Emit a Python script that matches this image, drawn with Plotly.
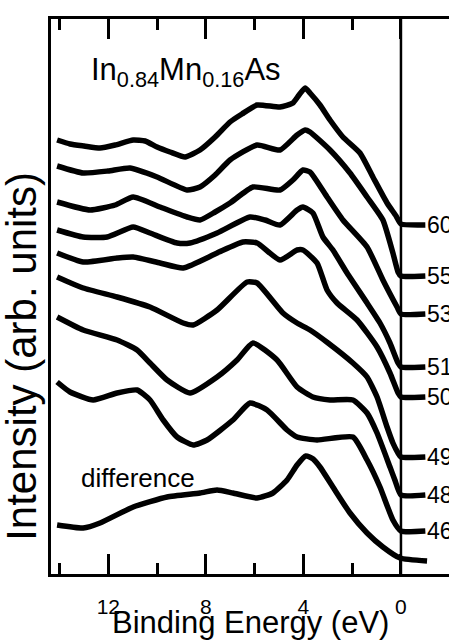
import plotly.graph_objects as go

# Binding energy (eV) and intensity (arb. units)
e_60 = [14.10, 13.57, 12.99, 12.34, 11.72, 10.98, 10.49, 10.00, 9.47, 8.85, 8.24, 7.62, 7.01, 6.52, 5.90,
        4.96, 4.43, 4.18, 3.93, 3.73, 3.32, 2.91, 2.38, 1.68, 1.15, 0.57, 0.20, 0.00, -1.00]
i_60 = [434, 430, 428, 426, 429, 434, 433, 427, 422, 417, 424, 437, 452, 460, 469,
        467, 471, 479, 486, 481, 469, 454, 437, 421, 397, 371, 358, 350, 349]

e_55 = [14.10, 13.03, 12.01, 11.11, 10.00, 8.77, 8.24, 7.62, 7.01, 5.90, 4.96, 4.26, 3.93, 3.73,
        2.91, 2.09, 1.39, 0.74, 0.33, 0.12, 0.00, -1.00]
i_55 = [408, 401, 403, 406, 397, 384, 387, 399, 414, 429, 424, 439, 444, 442,
        424, 401, 377, 354, 321, 302, 298, 298]

e_53 = [14.10, 12.75, 11.72, 10.98, 9.88, 8.77, 8.24, 7.62, 7.01, 6.07, 4.96, 4.43, 4.02, 3.73,
        3.03, 2.38, 1.39, 0.74, 0.16, 0.00, -1.00]
i_53 = [372, 364, 369, 377, 367, 357, 354, 362, 371, 387, 384, 394, 404, 402,
        377, 354, 327, 294, 267, 260, 260]

e_51 = [14.10, 13.03, 12.05, 10.98, 10.29, 9.18, 8.65, 7.54, 6.19, 5.57, 4.96, 4.26, 4.02, 3.61,
        3.20, 2.79, 2.21, 1.39, 0.86, 0.45, 0.12, 0.00, -1.00]
i_51 = [344, 337, 337, 347, 341, 331, 331, 341, 357, 354, 349, 364, 367, 361,
        337, 324, 301, 271, 251, 231, 211, 207, 207]

e_50 = [14.10, 13.03, 11.64, 10.98, 9.88, 8.93, 7.54, 6.48, 5.90, 4.96, 4.26, 4.02, 3.44, 3.03,
        2.62, 1.80, 0.98, 0.45, 0.12, 0.00, -1.00]
i_50 = [321, 312, 316, 317, 311, 306, 321, 332, 331, 314, 324, 324, 311, 284,
        271, 254, 227, 201, 181, 177, 177]

e_49 = [14.10, 13.03, 11.64, 10.29, 8.93, 8.52, 7.54, 6.31, 5.90, 4.84, 4.26, 3.73, 2.99, 1.97,
        1.39, 0.98, 0.57, 0.33, 0.12, 0.00, -1.00]
i_49 = [297, 286, 277, 267, 251, 249, 264, 292, 291, 261, 251, 244, 231, 211,
        197, 177, 147, 131, 121, 117, 117]

e_48 = [14.10, 13.03, 11.64, 10.82, 10.29, 9.59, 8.65, 7.54, 6.72, 6.07, 5.08, 4.26, 3.61, 2.91,
        1.97, 1.39, 0.98, 0.45, 0.25, 0.00, -1.00]
i_48 = [257, 244, 234, 224, 211, 194, 181, 197, 214, 231, 214, 187, 177, 174,
        174, 161, 141, 107, 94, 79, 79]

e_46 = [14.10, 13.57, 12.62, 11.64, 10.82, 10.29, 9.75, 9.18, 8.52, 7.95, 6.89, 6.19, 5.49, 4.67,
        4.26, 3.44, 1.97, 1.39, 0.86, 0.33, 0.00, -1.00]
i_46 = [192, 182, 174, 181, 184, 174, 154, 137, 129, 134, 154, 171, 164, 144,
        137, 134, 137, 114, 87, 54, 43, 43]

e_diff = [14.10, 13.03, 12.34, 10.98, 9.59, 8.24, 7.54, 6.89, 5.90, 5.25, 4.67, 4.26, 3.90, 3.60,
          3.32, 2.79, 2.09, 1.39, 0.74, 0.04, -1.07]
i_diff = [49, 46, 51, 67, 77, 81, 84, 81, 76, 81, 94, 109, 118, 115,
          107, 87, 61, 41, 27, 16, 13]

photon_labels = ["60", "55", "53", "51", "50", "49", "48", "46"]
spectra_e = [e_60, e_55, e_53, e_51, e_50, e_49, e_48, e_46]
spectra_i = [i_60, i_55, i_53, i_51, i_50, i_49, i_48, i_46]

FONT = "Liberation Sans, Arial, Helvetica, sans-serif"
LINE = dict(color="black", width=5.5, shape="spline", smoothing=0.5)

fig = go.Figure()
for lab, ee, ii in zip(photon_labels, spectra_e, spectra_i):
    fig.add_trace(go.Scatter(x=ee, y=ii, mode="lines", name=lab, line=LINE,
                             showlegend=False, hoverinfo="skip"))
fig.add_trace(go.Scatter(x=e_diff, y=i_diff, mode="lines", name="difference", line=LINE,
                         showlegend=False, hoverinfo="skip"))

annotations = []
for lab, ii in zip(photon_labels, spectra_i):
    annotations.append(dict(x=-1.0, y=ii[-1], xref="x", yref="y", text=lab, showarrow=False,
                            xanchor="left", yanchor="middle",
                            font=dict(family=FONT, size=23, color="black")))

annotations += [
    dict(x=0.096, y=0.905, xref="paper", yref="paper", showarrow=False,
         text="In<sub>0.84</sub>Mn<sub>0.16</sub>As", xanchor="left", yanchor="middle",
         font=dict(family=FONT, size=31, color="black")),
    dict(x=0.071, y=0.173, xref="paper", yref="paper", showarrow=False,
         text="difference", xanchor="left", yanchor="middle",
         font=dict(family=FONT, size=26, color="black")),
    dict(x=0.5, y=-0.087, xref="paper", yref="paper", showarrow=False,
         text="Binding Energy (eV)", xanchor="center", yanchor="middle",
         font=dict(family=FONT, size=31, color="black")),
    dict(x=-0.073, y=0.393, xref="paper", yref="paper", showarrow=False,
         text="Intensity (arb. units)", textangle=-90, xanchor="center", yanchor="middle",
         font=dict(family=FONT, size=42, color="black")),
]

fig.update_layout(
    width=449, height=642,
    margin=dict(l=51, r=0, t=19, b=68),
    paper_bgcolor="white", plot_bgcolor="white",
    font=dict(family=FONT, color="black"),
    annotations=annotations,
    shapes=[dict(type="line", xref="x", yref="paper", x0=0, x1=0, y0=0, y1=1,
                 line=dict(color="black", width=2.5))],
)
fig.update_xaxes(range=[14.35, -1.97], showgrid=False, zeroline=False,
                 showline=True, linecolor="black", linewidth=2.5, mirror="ticks",
                 ticks="inside", ticklen=20, tickwidth=2.5, tickcolor="black",
                 tick0=0, dtick=4, ticklabelstandoff=12,
                 tickfont=dict(family=FONT, size=21, color="black"),
                 minor=dict(ticks="inside", ticklen=11, tickwidth=2.5, tickcolor="black",
                            dtick=2, tick0=0, showgrid=False))
fig.update_yaxes(range=[0, 555], showgrid=False, zeroline=False, showticklabels=False,
                 showline=True, linecolor="black", linewidth=2.5, mirror=False, ticks="")

fig.write_html("out.html", config={"displayModeBar": False},
               post_script="document.body.style.margin='0px';")
